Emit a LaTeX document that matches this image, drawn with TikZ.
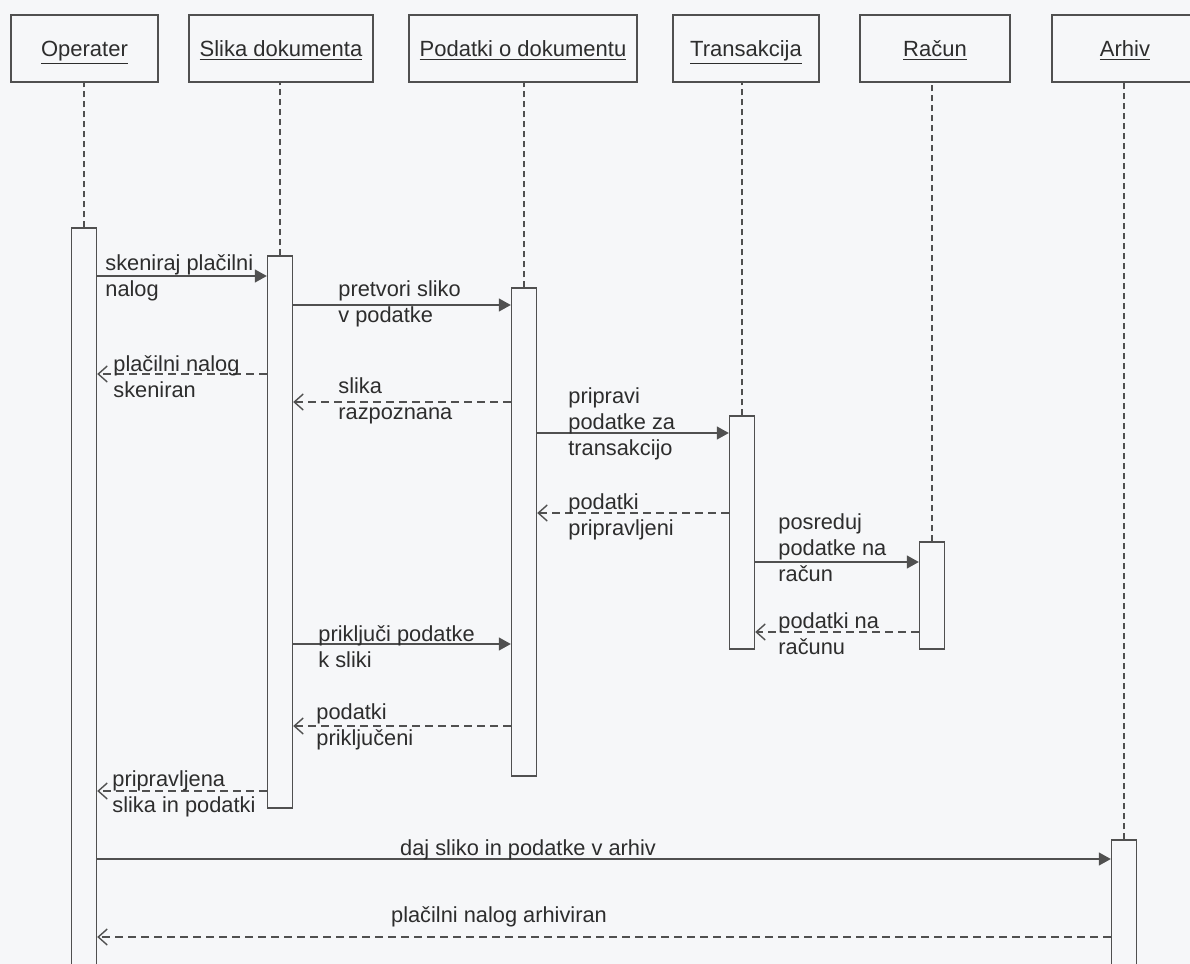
\documentclass[tikz,border=0pt]{standalone}
\usepackage{fontspec}
\setmainfont{Liberation Sans}
\usetikzlibrary{arrows.meta}
\definecolor{linegray}{RGB}{80, 80, 80}
\definecolor{textgray}{RGB}{45, 45, 45}
\definecolor{papercolor}{RGB}{246, 247, 249}

\begin{document}
\begin{tikzpicture}[x=0.5pt, y=-0.5pt,
  head/.style={draw=linegray, line width=0.7pt, minimum height=33.5pt, inner sep=0pt,
    text height=8pt, text depth=0pt, text=textgray, font=\fontsize{11}{13}\selectfont},
  bar/.style={draw=linegray, line width=0.7pt, fill=papercolor, minimum width=12.5pt, inner sep=0pt},
  life/.style={linegray, line width=0.7pt, dash pattern=on 3pt off 2pt},
  call/.style={linegray, line width=0.7pt, -{Triangle[length=6pt, width=6.5pt]}},
  reply/.style={linegray, line width=0.7pt, dash pattern=on 4pt off 2.5pt,
    -{Straight Barb[length=4.5pt, width=8pt]}},
  lbl/.style={text=textgray, font=\fontsize{10.9}{13}\selectfont, align=left, anchor=west, inner sep=0pt}]

  % Paper
  \fill[papercolor] (0,0) rectangle (1190,964);
  \useasboundingbox (0,0) rectangle (1190,964);
  \clip (0,0) rectangle (1190,964);

  % Object heads
  \node[head, minimum width=73.5pt] (op) at (84.5,48.5) {\underline{Operater}};
  \node[head, minimum width=92pt] (sl) at (281,48.5) {\underline{Slika dokumenta}};
  \node[head, minimum width=114pt] (pd) at (523,48.5) {\underline{Podatki o dokumentu}};
  \node[head, minimum width=73pt] (tr) at (746,48.5) {\underline{Transakcija}};
  \node[head, minimum width=75pt] (ra) at (935,48.5) {\underline{Račun}};
  \node[head, minimum width=73pt] (ar) at (1125,48.5) {\underline{Arhiv}};

  % Activation bars
  \node[bar, minimum height=376pt] (opbar) at (84,604) {};
  \node[bar, minimum height=276pt] (slbar) at (280,532) {};
  \node[bar, minimum height=244pt] (pdbar) at (524,532) {};
  \node[bar, minimum height=116.5pt] (trbar) at (742,532.5) {};
  \node[bar, minimum height=53.5pt] (rabar) at (932,595.5) {};
  \node[bar, minimum height=70pt] (arbar) at (1124,910) {};

  % Lifelines
  \draw[life] (opbar.north) -- (opbar.north |- op.south);
  \draw[life] (slbar.north) -- (slbar.north |- sl.south);
  \draw[life] (pdbar.north) -- (pdbar.north |- pd.south);
  \draw[life] (trbar.north) -- (trbar.north |- tr.south);
  \draw[life] (rabar.north) -- (rabar.north |- ra.south);
  \draw[life] (arbar.north) -- (arbar.north |- ar.south);

  % Scanning
  \draw[call] (opbar.east |- 0,276) -- (slbar.west |- 0,276);
  \node[lbl] (m1) at (105,278) {skeniraj plačilni\\nalog};
  \draw[call] (slbar.east |- 0,305) -- (pdbar.west |- 0,305);
  \node[lbl] (m2) at (338,304) {pretvori sliko\\v podatke};
  \draw[reply] (slbar.west |- 0,374) -- (opbar.east |- 0,374);
  \node[lbl] (m3) at (113,377) {plačilni nalog\\skeniran};
  \draw[reply] (pdbar.west |- 0,402) -- (slbar.east |- 0,402);
  \node[lbl] (m4) at (338,401) {slika\\razpoznana};

  % Transaction
  \draw[call] (pdbar.east |- 0,433) -- (trbar.west |- 0,433);
  \node[lbl] (m5) at (568,424) {pripravi\\podatke za\\transakcijo};
  \draw[reply] (trbar.west |- 0,513) -- (pdbar.east |- 0,513);
  \node[lbl] (m6) at (568,517) {podatki\\pripravljeni};
  \draw[call] (trbar.east |- 0,562) -- (rabar.west |- 0,562);
  \node[lbl] (m7) at (778,548) {posreduj\\podatke na\\račun};
  \draw[reply] (rabar.west |- 0,632) -- (trbar.east |- 0,632);
  \node[lbl] (m8) at (778,634) {podatki na\\računu};

  % Attach data to image
  \draw[call] (slbar.east |- 0,644) -- (pdbar.west |- 0,644);
  \node[lbl] (m9) at (318,647) {priključi podatke\\k sliki};
  \draw[reply] (pdbar.west |- 0,726) -- (slbar.east |- 0,726);
  \node[lbl] (m10) at (316,727) {podatki\\priključeni};
  \draw[reply] (slbar.west |- 0,791) -- (opbar.east |- 0,791);
  \node[lbl] (m11) at (112,794) {pripravljena\\slika in podatki};

  % Archive
  \draw[call] (opbar.east |- 0,859) -- (arbar.west |- 0,859);
  \node[lbl, anchor=base] (m12) at (528,855) {daj sliko in podatke v arhiv};
  \draw[reply] (arbar.west |- 0,937) -- (opbar.east |- 0,937);
  \node[lbl, anchor=base] (m13) at (499,922) {plačilni nalog arhiviran};

\end{tikzpicture}
\end{document}
